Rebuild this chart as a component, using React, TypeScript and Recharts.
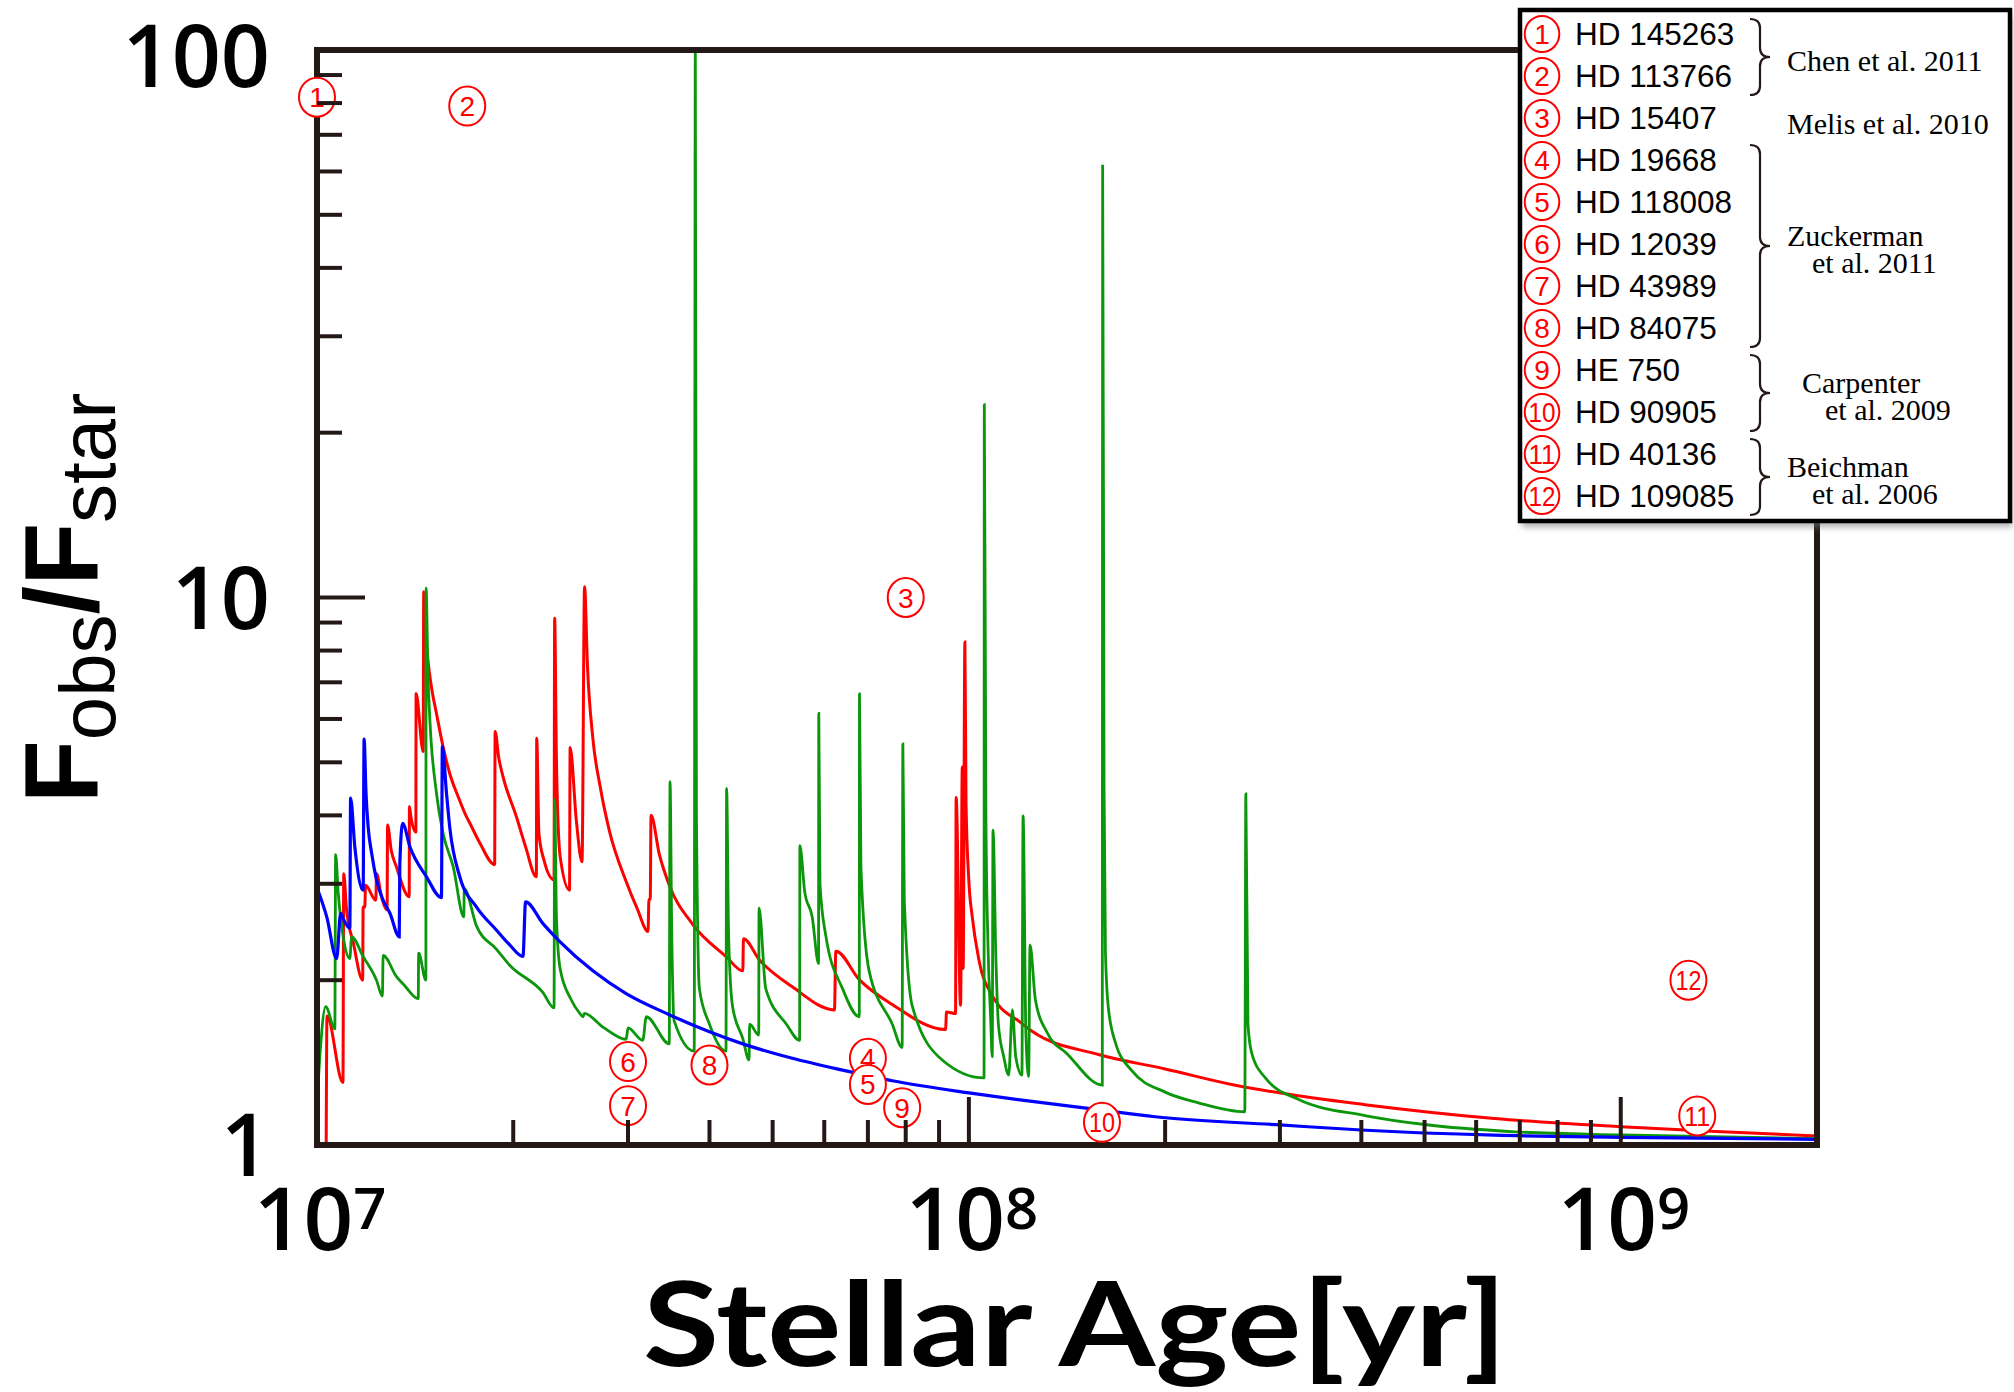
import React from 'react';
import { ComposedChart, Line, Scatter, XAxis, YAxis } from 'recharts';

// ---------------- series (age in yr, F_obs/F_star) ----------------
const redAge = [
  1.033e7, 1.036e7, 1.096e7, 1.099e7, 1.11e7, 1.137e7, 1.175e7, 1.177e7, 1.184e7, 1.187e7,
  1.231e7, 1.234e7, 1.256e7, 1.281e7, 1.283e7, 1.30e7, 1.324e7, 1.385e7, 1.386e7, 1.393e7,
  1.418e7, 1.419e7, 1.455e7, 1.458e7, 1.47e7, 1.481e7, 1.50e7, 1.525e7, 1.561e7, 1.598e7,
  1.65e7, 1.695e7, 1.716e7, 1.78e7, 1.873e7, 1.876e7, 1.90e7, 1.929e7, 2.022e7, 2.09e7,
  2.17e7, 2.173e7, 2.19e7, 2.23e7, 2.31e7, 2.315e7, 2.33e7, 2.36e7, 2.44e7, 2.445e7,
  2.50e7, 2.55e7, 2.573e7, 2.60e7, 2.65e7, 2.72e7, 2.81e7, 2.98e7, 3.10e7, 3.22e7,
  3.23e7, 3.245e7, 3.254e7, 3.35e7, 3.47e7, 3.77e7, 4.24e7, 4.50e7, 4.51e7, 4.77e7,
  5.36e7, 6.22e7, 6.25e7, 6.79e7, 7.63e7, 9.21e7, 9.24e7, 9.54e7, 9.56e7, 9.71e7,
  9.77e7, 9.80e7, 9.86e7, 9.90e7, 1.0e8, 1.012e8, 1.036e8, 1.086e8, 1.11e8, 1.19e8,
  1.25e8, 1.58e8, 2.0e8, 2.53e8, 3.2e8, 4.05e8, 6.4e8, 1.0e9, 1.4e9, 2.0e9,
];
const redFlux = [
  1.0, 1.72, 1.30, 3.13, 2.69, 2.34, 2.0, 2.72, 2.72, 2.98,
  2.80, 3.13, 2.84, 2.69, 3.84, 3.45, 3.22, 2.84, 4.15, 3.98,
  3.73, 6.68, 5.23, 10.25, 8.4, 7.6, 6.8, 6.14, 5.34, 4.77,
  4.3, 3.98, 3.87, 3.55, 3.25, 5.69, 5.1, 4.71, 3.98, 3.5,
  3.09, 5.53, 3.71, 3.31, 3.05, 9.16, 5.0, 3.37, 2.92, 5.32,
  3.9, 3.29, 10.46, 7.46, 5.52, 4.5, 3.74, 3.03, 2.7, 2.455,
  2.81, 2.81, 4.0, 3.4, 2.985, 2.53, 2.21, 2.08, 2.38, 2.18,
  1.945, 1.765, 2.26, 2.005, 1.805, 1.625, 1.75, 1.738, 4.31, 1.80,
  4.90, 2.1, 8.29, 4.2, 3.03, 2.61, 2.18, 1.874, 1.80, 1.687,
  1.613, 1.463, 1.377, 1.29, 1.23, 1.185, 1.118, 1.08, 1.058, 1.039,
];

const greenAge = [
  1.0e7, 1.01e7, 1.031e7, 1.065e7, 1.068e7, 1.078e7, 1.097e7, 1.123e7, 1.13e7, 1.177e7,
  1.234e7, 1.26e7, 1.263e7, 1.324e7, 1.36e7, 1.43e7, 1.432e7, 1.469e7, 1.47e7, 1.48e7,
  1.49e7, 1.525e7, 1.561e7, 1.618e7, 1.68e7, 1.682e7, 1.757e7, 1.884e7, 1.975e7, 2.22e7,
  2.31e7, 2.315e7, 2.33e7, 2.36e7, 2.45e7, 2.53e7, 2.56e7, 2.57e7, 2.75e7, 2.98e7,
  3.0e7, 3.16e7, 3.2e7, 3.47e7, 3.48e7, 3.50e7, 3.53e7, 3.79e7, 3.805e7, 3.82e7,
  3.86e7, 4.0e7, 4.24e7, 4.25e7, 4.28e7, 4.34e7, 4.5e7, 4.6e7, 4.61e7, 4.76e7,
  4.765e7, 4.88e7, 5.25e7, 5.5e7, 5.505e7, 5.6e7, 5.75e7, 5.88e7, 5.885e7, 5.91e7,
  6.03e7, 6.40e7, 6.79e7, 6.795e7, 6.83e7, 7.03e7, 7.63e7, 7.9e7, 7.92e7, 7.96e7,
  8.19e7, 9.1e7, 1.055e8, 1.056e8, 1.062e8, 1.07e8, 1.08e8, 1.086e8, 1.089e8, 1.10e8,
  1.11e8, 1.131e8, 1.151e8, 1.166e8, 1.18e8, 1.206e8, 1.211e8, 1.223e8, 1.235e8, 1.241e8,
  1.265e8, 1.32e8, 1.413e8, 1.602e8, 1.604e8, 1.612e8, 1.62e8, 1.636e8, 1.677e8, 1.778e8,
  2.0e8, 2.25e8, 2.65e8, 2.66e8, 2.68e8, 2.715e8, 2.85e8, 3.2e8, 4.05e8, 5.0e8,
  6.89e8, 1.0e9, 2.0e9,
];
const greenFlux = [
  1.20, 1.45, 1.79, 1.63, 3.39, 2.88, 2.40, 2.19, 2.40, 2.21,
  2.0, 1.87, 2.22, 2.03, 1.96, 1.85, 2.24, 2.0, 10.4, 7.2,
  5.97, 4.39, 3.71, 3.22, 2.61, 2.94, 2.51, 2.28, 2.13, 1.90,
  1.78, 4.27, 2.6, 2.1, 1.85, 1.74, 1.715, 1.74, 1.64, 1.56,
  1.636, 1.553, 1.715, 1.53, 4.61, 2.5, 1.687, 1.484, 100, 4.0,
  1.93, 1.662, 1.484, 4.48, 2.4, 1.79, 1.564, 1.43, 1.662, 1.588,
  2.71, 1.93, 1.662, 1.553, 3.52, 2.9, 2.61, 2.145, 6.14, 3.0,
  2.42, 1.93, 1.715, 6.67, 3.2, 2.08, 1.662, 1.507, 5.40, 2.8,
  1.791, 1.43, 1.326, 22.5, 4.0, 2.3, 1.7, 1.45, 3.76, 2.2,
  1.66, 1.45, 1.342, 1.765, 1.45, 1.342, 3.99, 1.6, 1.333, 2.32,
  1.84, 1.6, 1.47, 1.287, 61.7, 4.5, 2.25, 1.79, 1.542, 1.367,
  1.249, 1.194, 1.15, 4.38, 1.662, 1.473, 1.326, 1.212, 1.132, 1.09,
  1.057, 1.043, 1.027,
];

const blueAge = [
  1.0e7, 1.035e7, 1.072e7, 1.087e7, 1.097e7, 1.123e7, 1.126e7, 1.143e7, 1.177e7, 1.181e7,
  1.189e7, 1.198e7, 1.213e7, 1.234e7, 1.263e7, 1.294e7, 1.337e7, 1.340e7, 1.353e7, 1.388e7,
  1.472e7, 1.552e7, 1.557e7, 1.58e7, 1.598e7, 1.656e7, 1.757e7, 1.884e7, 1.975e7, 2.07e7,
  2.089e7, 2.22e7, 2.36e7, 2.65e7, 2.98e7, 3.47e7, 4.0e7, 4.5e7, 5.36e7, 6.4e7,
  7.63e7, 1.0e8, 1.19e8, 1.58e8, 1.93e8, 3.0e8, 4.0e8, 6.4e8, 1.0e9, 2.0e9,
];
const blueFlux = [
  2.95, 2.61, 2.19, 2.65, 2.59, 2.49, 4.30, 3.5, 2.92, 5.51,
  4.39, 3.81, 3.41, 3.05, 2.80, 2.65, 2.40, 3.27, 3.87, 3.51,
  3.09, 2.83, 5.34, 4.39, 3.81, 3.09, 2.72, 2.47, 2.32, 2.21,
  2.78, 2.54, 2.35, 2.08, 1.89, 1.73, 1.61, 1.53, 1.44, 1.37,
  1.31, 1.245, 1.21, 1.16, 1.126, 1.088, 1.065, 1.042, 1.033, 1.024,
];

// ---------------- observed stars (circled numbers) ----------------
const starNumber = [1, 2, 3, 4, 5, 6, 7, 8, 9, 10, 11, 12];
const starAge = [1.0e7, 1.7e7, 8.0e7, 7.0e7, 7.0e7, 3.0e7, 3.0e7, 4.0e7, 7.9e7, 1.6e8, 1.31e9, 1.27e9];
const starFlux = [82, 79, 10.0, 1.44, 1.29, 1.42, 1.18, 1.40, 1.17, 1.10, 1.13, 2.0];

// ---------------- legend ----------------
const starName = [
  'HD 145263', 'HD 113766', 'HD 15407', 'HD 19668', 'HD 118008', 'HD 12039',
  'HD 43989', 'HD 84075', 'HE 750', 'HD 90905', 'HD 40136', 'HD 109085',
];
const refFirst = [0, 2, 3, 8, 10];
const refLast = [1, 2, 7, 9, 11];
const refText = [
  ['Chen et al. 2011'],
  ['Melis et al. 2010'],
  ['Zuckerman', 'et al. 2011'],
  ['Carpenter', 'et al. 2009'],
  ['Beichman', 'et al. 2006'],
];

// ---------------- axes ----------------
const xDomain = [1e7, 2e9];
const yDomain = [1, 100];
const xTicks = [
  1e7, 2e7, 3e7, 4e7, 5e7, 6e7, 7e7, 8e7, 9e7,
  1e8, 2e8, 3e8, 4e8, 5e8, 6e8, 7e8, 8e8, 9e8,
  1e9, 2e9,
];
const yTicks = [1, 2, 3, 4, 5, 6, 7, 8, 9, 10, 20, 30, 40, 50, 60, 70, 80, 90, 100];
const xLabelTicks = [1e7, 1e8, 1e9];
const yLabelTicks = [1, 10, 100];
const xTitle = 'Stellar Age[yr]';
const yTitleParts = ['F', 'obs', '/F', 'star'];

// ---------------- build tables ----------------
const rows = (ages: number[], vals: number[]) => ages.map((t, i) => ({ t, f: vals[i] }));
const redData = rows(redAge, redFlux);
const greenData = rows(greenAge, greenFlux);
const blueData = rows(blueAge, blueFlux);
const starData = starAge.map((t, i) => ({ t, f: starFlux[i], n: starNumber[i] }));

// ---------------- styles ----------------
const W = 2014;
const H = 1392;
const AXIS = '#231815';
const RED = '#ff0000';
const GREEN = '#0b960b';
const BLUE = '#0000ff';
const MINOR = 25;
const MAJOR = 48;
const NUM_FONT = "'Open Sans', sans-serif";
const TITLE_FONT = "Lato, 'Open Sans', sans-serif";
const SANS = "'Liberation Sans', Arial, sans-serif";
const SERIF = "'Liberation Serif', 'Times New Roman', serif";

const isDecade = (v: number) => Math.abs(Math.log10(v) - Math.round(Math.log10(v))) < 1e-9;
const tickLen = (v: number) => (isDecade(v) ? MAJOR : MINOR);

function BottomTick(props: any) {
  const { x, y, payload } = props;
  const v = payload.value as number;
  const edge = v === xDomain[0] || v === xDomain[1];
  const exp = Math.round(Math.log10(v));
  return (
    <g>
      {!edge && <line x1={x} y1={y} x2={x} y2={y - tickLen(v)} stroke={AXIS} strokeWidth={4} />}
      {xLabelTicks.includes(v) && (
        <text x={x + 3} y={y + 105} textAnchor="middle" fontFamily={NUM_FONT} fontWeight={600} fontSize={87} fill="#000">
          10
          <tspan dy={-21} fontSize={58}>{exp}</tspan>
        </text>
      )}
    </g>
  );
}

function TopTick(props: any) {
  const { x, y, payload } = props;
  const v = payload.value as number;
  const edge = v === xDomain[0] || v === xDomain[1];
  if (edge) return <g />;
  return <line x1={x} y1={y} x2={x} y2={y + tickLen(v)} stroke={AXIS} strokeWidth={4} />;
}

function LeftTick(props: any) {
  const { x, y, payload } = props;
  const v = payload.value as number;
  const edge = v === yDomain[0] || v === yDomain[1];
  return (
    <g>
      {!edge && <line x1={x} y1={y} x2={x + tickLen(v)} y2={y} stroke={AXIS} strokeWidth={4} />}
      {yLabelTicks.includes(v) && (
        <text
          x={x - 47}
          y={y + (v === yDomain[1] ? 37 : 31)}
          textAnchor="end"
          fontFamily={NUM_FONT}
          fontWeight={600}
          fontSize={86}
          fill="#000"
        >
          {v}
        </text>
      )}
    </g>
  );
}

function RightTick(props: any) {
  const { x, y, payload } = props;
  const v = payload.value as number;
  const edge = v === yDomain[0] || v === yDomain[1];
  if (edge) return <g />;
  return <line x1={x} y1={y} x2={x - tickLen(v)} y2={y} stroke={AXIS} strokeWidth={4} />;
}

function StarMarker(props: any) {
  const { cx, cy, payload } = props;
  if (cx == null || cy == null) return <g />;
  const label = String(payload.n);
  const two = label.length > 1;
  return (
    <g>
      <ellipse cx={cx} cy={cy} rx={18} ry={19.5} fill="#fff" stroke={RED} strokeWidth={2} />
      <text
        x={cx}
        y={cy + 10}
        textAnchor="middle"
        fontFamily={SANS}
        fontSize={28}
        fill={RED}
        {...(two ? { textLength: 26, lengthAdjust: 'spacingAndGlyphs' } : {})}
      >
        {label}
      </text>
    </g>
  );
}

function bracePath(x: number, y0: number, y1: number, w: number) {
  const mid = (y0 + y1) / 2;
  const xm = x + w / 2;
  const r = 9;
  return `M ${x} ${y0} Q ${xm} ${y0} ${xm} ${y0 + r} L ${xm} ${mid - r} Q ${xm} ${mid} ${x + w} ${mid} Q ${xm} ${mid} ${xm} ${mid + r} L ${xm} ${y1 - r} Q ${xm} ${y1} ${x} ${y1}`;
}

function Overlay() {
  const rowY = (i: number) => 34 + i * 42;
  const box = { x: 1520, y: 10, w: 490, h: 511 };
  return (
    <svg width={W} height={H} style={{ position: 'absolute', left: 0, top: 0, pointerEvents: 'none' }}>
      <defs>
        <filter id="legShadow" x="-10%" y="-10%" width="120%" height="120%">
          <feGaussianBlur stdDeviation="3" />
        </filter>
      </defs>
      {/* y-axis title */}
      <text transform="translate(97 598) rotate(-90)" textAnchor="middle" fontFamily={SANS} fill="#000">
        <tspan fontSize={103} fontWeight={700}>{yTitleParts[0]}</tspan>
        <tspan fontSize={78} dy={18}>{yTitleParts[1]}</tspan>
        <tspan fontSize={103} fontWeight={700} dy={-18}>{yTitleParts[2]}</tspan>
        <tspan fontSize={78} dy={18}>{yTitleParts[3]}</tspan>
      </text>
      {/* x-axis title */}
      <text
        x={1075}
        y={1366}
        textAnchor="middle"
        fontFamily={TITLE_FONT}
        fontWeight={700}
        fontSize={117}
        fill="#000"
        textLength={864}
        lengthAdjust="spacingAndGlyphs"
      >
        {xTitle}
      </text>
      {/* legend */}
      <rect x={box.x + 2} y={box.y + 6} width={box.w} height={box.h} fill="#777" opacity={0.6} filter="url(#legShadow)" />
      <rect x={box.x} y={box.y} width={box.w} height={box.h} fill="#fff" stroke="#000" strokeWidth={4.5} />
      {starName.map((name, i) => {
        const cy = rowY(i);
        const label = String(starNumber[i]);
        const two = label.length > 1;
        return (
          <g key={name}>
            <ellipse cx={1542} cy={cy} rx={17.3} ry={18} fill="#fff" stroke={RED} strokeWidth={2} />
            <text
              x={1542}
              y={cy + 10}
              textAnchor="middle"
              fontFamily={SANS}
              fontSize={28}
              fill={RED}
              {...(two ? { textLength: 27, lengthAdjust: 'spacingAndGlyphs' } : {})}
            >
              {label}
            </text>
            <text x={1575} y={cy + 11} fontFamily={SANS} fontSize={31.5} fill="#000">
              {name}
            </text>
          </g>
        );
      })}
      {refText.map((lines, g) => {
        const y0 = rowY(refFirst[g]);
        const y1 = rowY(refLast[g]);
        const mid = (y0 + y1) / 2;
        const hasBrace = refFirst[g] !== refLast[g];
        const indent = lines[0] === 'Carpenter' ? 15 : 0;
        return (
          <g key={g}>
            {hasBrace && (
              <path d={bracePath(1750, y0 - 15, y1 + 19, 20)} fill="none" stroke="#231815" strokeWidth={2.2} />
            )}
            {lines.map((ln, j) => (
              <text
                key={j}
                x={1787 + indent + (j === 1 ? 25 - (indent ? 2 : 0) : 0)}
                y={lines.length === 1 ? mid + 16 : mid + (j === 0 ? 2 : 29)}
                fontFamily={SERIF}
                fontSize={30}
                fill="#000"
              >
                {ln}
              </text>
            ))}
          </g>
        );
      })}
    </svg>
  );
}

export default function App() {
  const axisLine = { stroke: AXIS, strokeWidth: 6, strokeLinecap: 'square' as const };
  return (
    <div style={{ position: 'absolute', left: 0, top: 0, width: W, height: H, background: '#fff' }}>
      <ComposedChart width={W} height={H} margin={{ top: 49, right: 196, bottom: 246, left: 316 }}>
        <XAxis
          xAxisId="b"
          dataKey="t"
          type="number"
          scale="log"
          domain={xDomain}
          ticks={xTicks}
          interval={0}
          height={1}
          tickSize={0}
          tickMargin={0}
          tickLine={false}
          axisLine={axisLine}
          tick={BottomTick}
        />
        <XAxis
          xAxisId="t"
          orientation="top"
          dataKey="t"
          type="number"
          scale="log"
          domain={xDomain}
          ticks={xTicks}
          interval={0}
          height={1}
          tickSize={0}
          tickMargin={0}
          tickLine={false}
          axisLine={axisLine}
          tick={TopTick}
        />
        <YAxis
          yAxisId="l"
          dataKey="f"
          type="number"
          scale="log"
          domain={yDomain}
          ticks={yTicks}
          interval={0}
          width={1}
          tickSize={0}
          tickMargin={0}
          tickLine={false}
          axisLine={axisLine}
          tick={LeftTick}
        />
        <YAxis
          yAxisId="r"
          orientation="right"
          dataKey="f"
          type="number"
          scale="log"
          domain={yDomain}
          ticks={yTicks}
          interval={0}
          width={1}
          tickSize={0}
          tickMargin={0}
          tickLine={false}
          axisLine={axisLine}
          tick={RightTick}
        />
        <Line xAxisId="b" yAxisId="l" data={redData} dataKey="f" type="monotoneX" stroke={RED} strokeWidth={3} dot={false} activeDot={false} isAnimationActive={false} />
        <Line xAxisId="b" yAxisId="l" data={greenData} dataKey="f" type="monotoneX" stroke={GREEN} strokeWidth={2.8} dot={false} activeDot={false} isAnimationActive={false} />
        <Line xAxisId="b" yAxisId="l" data={blueData} dataKey="f" type="monotoneX" stroke={BLUE} strokeWidth={3.2} dot={false} activeDot={false} isAnimationActive={false} />
        <Scatter xAxisId="b" yAxisId="l" data={starData} dataKey="f" shape={StarMarker} isAnimationActive={false} />
      </ComposedChart>
      <Overlay />
    </div>
  );
}
